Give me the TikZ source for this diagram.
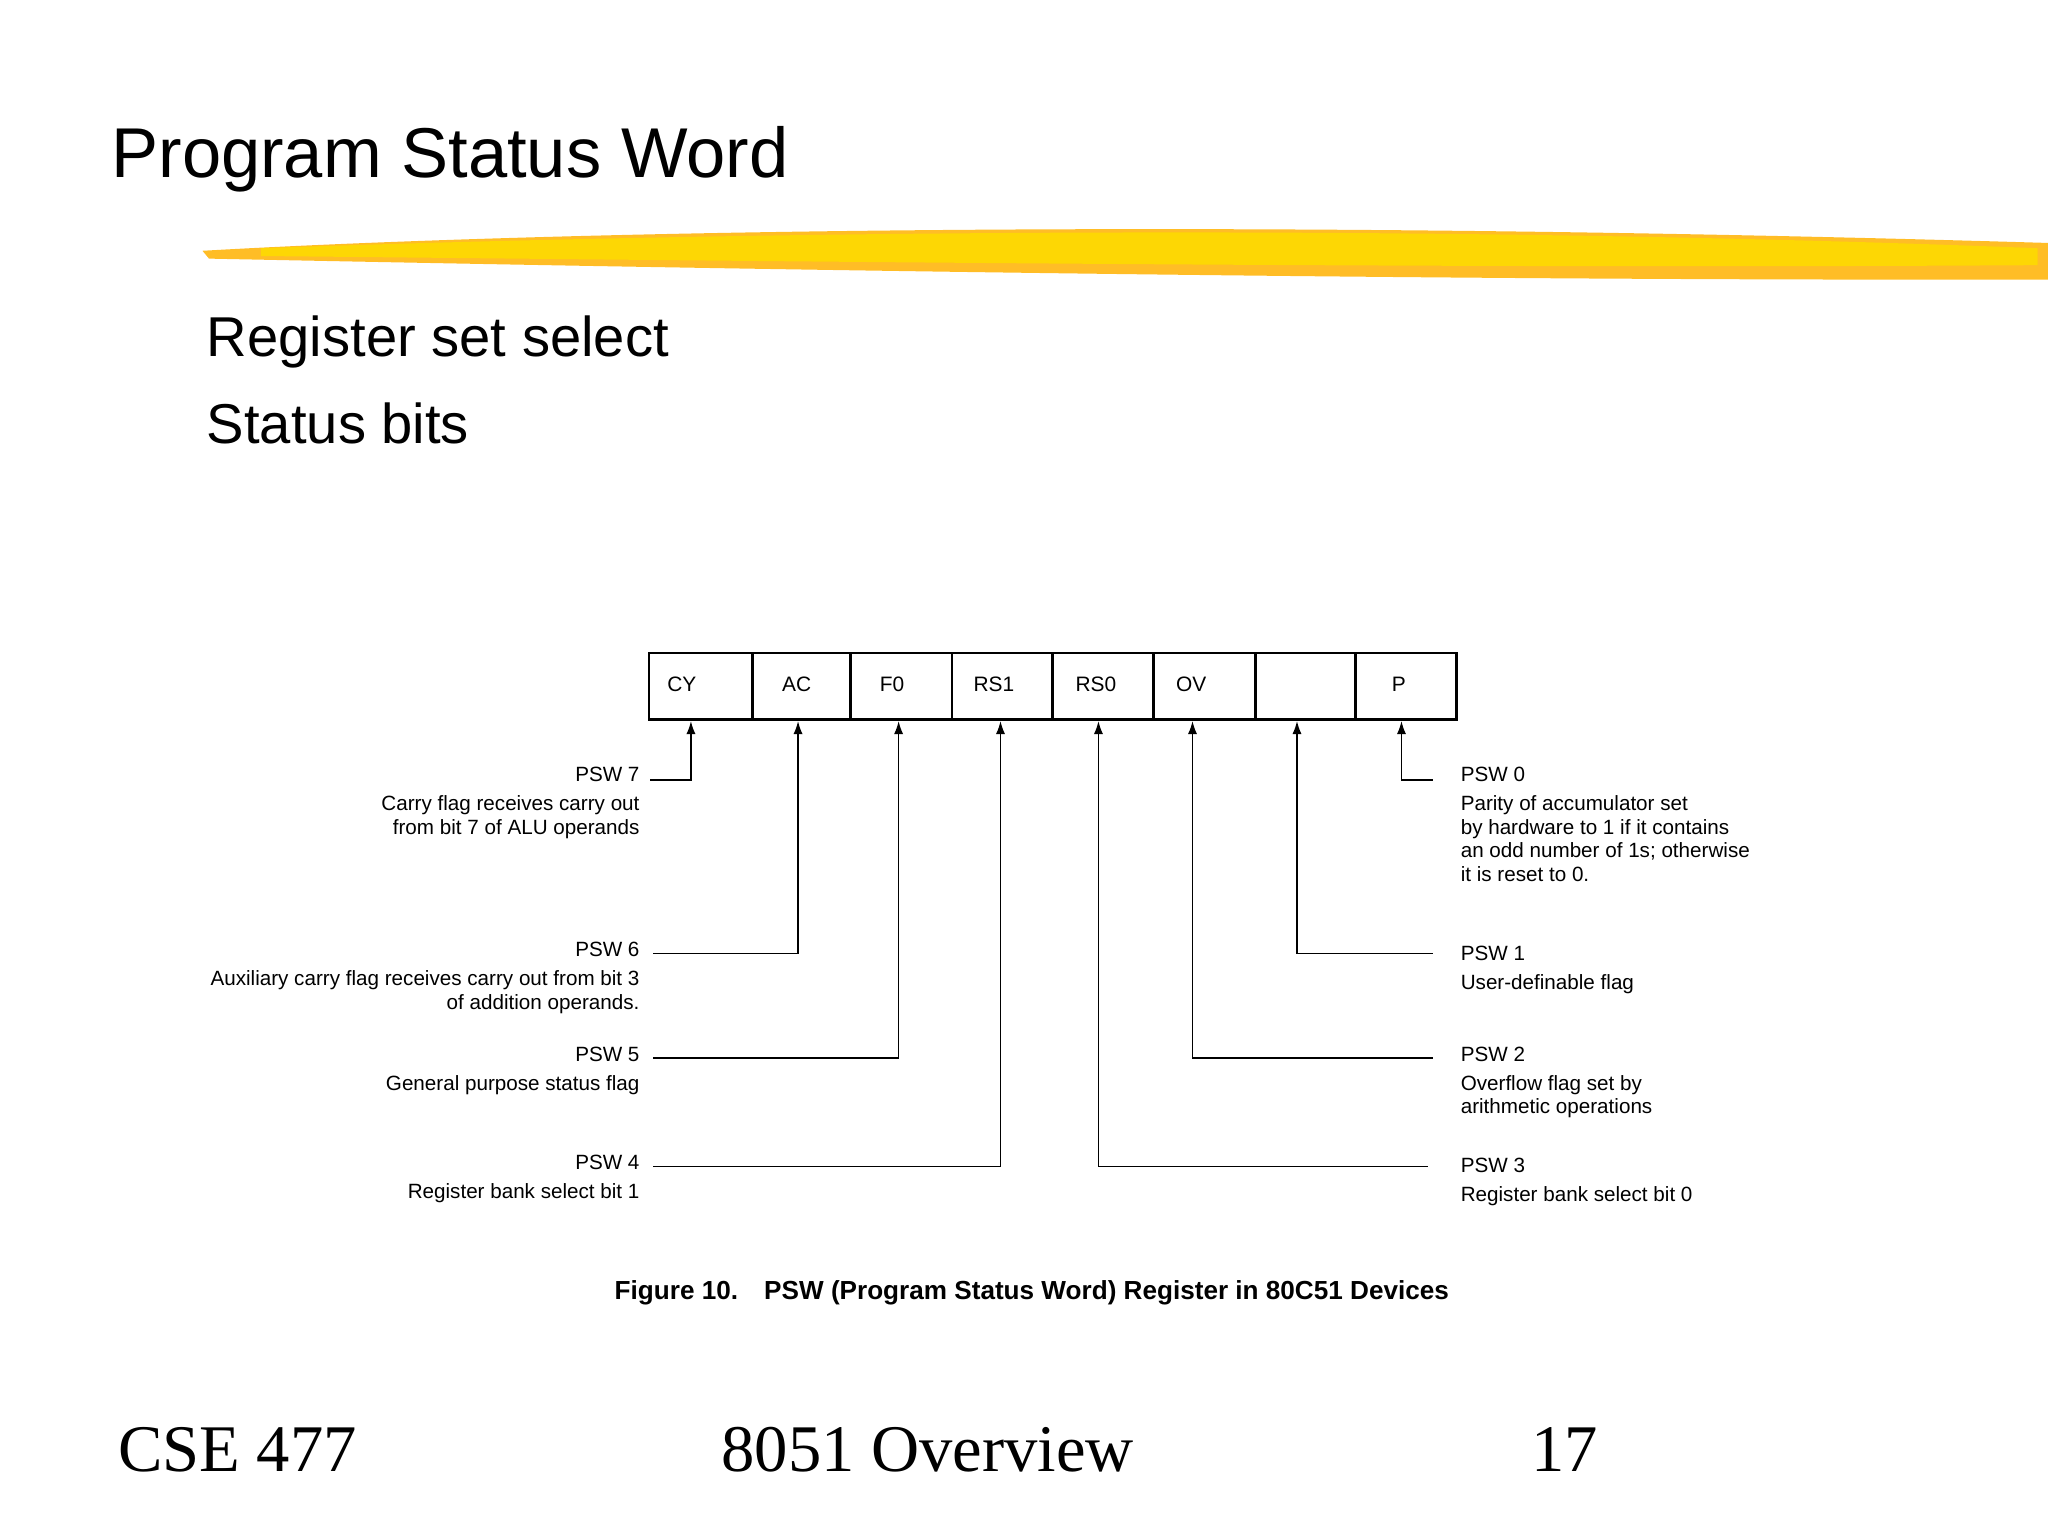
\documentclass[tikz,border=0pt]{standalone}
\usepackage{fontspec}
\setmainfont{Liberation Sans}
\newfontfamily\serf{Liberation Serif}
\usetikzlibrary{arrows.meta}
\begin{document}
\begin{tikzpicture}[x=0.5pt,y=-0.5pt,
  cell/.style={draw,line width=1pt,minimum height=25.5pt,inner sep=0pt,anchor=north west,font=\fontsize{8}{9}\selectfont},
  lbl/.style={font=\fontsize{7.9}{9}\selectfont,inner sep=0pt,align=left},
  wire/.style={line width=0.6pt},
  arr/.style={wire,-{Latex[length=5pt,width=3.5pt]}},
  title/.style={font=\fontsize{27}{30}\selectfont,anchor=west,inner sep=0pt},
  sub/.style={font=\fontsize{21.5}{24}\selectfont,anchor=west,inner sep=0pt},
  foot/.style={font=\serf\fontsize{25.5}{29}\selectfont,anchor=west,inner sep=0pt}]
\useasboundingbox (0,0) rectangle (1568,1175);
\fill[white] (0,0) rectangle (1568,1175);
% brush stroke
\fill[orange!60!yellow,opacity=0.85] (155,192) .. controls (400,178) and (900,166) .. (1568,186) -- (1568,214) .. controls (1100,215) and (600,207) .. (160,198) -- cycle;
\fill[yellow!75!orange] (200,190) .. controls (600,176) and (1100,172) .. (1560,190) -- (1560,203) .. controls (1100,206) and (600,200) .. (200,196) -- cycle;
\node[title] (t) at (85,122) {Program Status Word};
\node[sub] (s1) at (158,262) {Register set select};
\node[sub] (s2) at (158,324) {Status bits};
% register cells
\foreach \n/\a/\b in {cy/496/575,ac/575/650,f0/650/728,rs1/728/805,rs0/805/882,ov/882/960,u/960/1037,p/1037/1114}{
  \node[cell,minimum width={(\b-\a)*0.5pt}] (\n) at (\a,499) {};
}
\foreach \n/\x/\t in {cy/522/CY,ac/610/AC,f0/683/F0,rs1/761/RS1,rs0/839/RS0,ov/912/OV,p/1071/P}{
  \node[font=\fontsize{8}{9}\selectfont] at (\x,524) {\t};
}
\foreach \n/\x in {a7/529,a6/611,a5/688,a4/766,a3/841,a2/913,a1/993,a0/1073}{\coordinate (\n) at (\x,552);}
% left labels
\node[lbl,anchor=east] (l7) at (490,593) {PSW 7};
\node[lbl,anchor=north east,align=right] at (490,609) {Carry flag receives carry out\\from bit 7 of ALU operands};
\node[lbl,anchor=east] (l6) at (490,727) {PSW 6};
\node[lbl,anchor=north east,align=right] at (490,743) {Auxiliary carry flag receives carry out from bit 3\\of addition operands.};
\node[lbl,anchor=east] (l5) at (490,807) {PSW 5};
\node[lbl,anchor=north east,align=right] at (490,823) {General purpose status flag};
\node[lbl,anchor=east] (l4) at (490,890) {PSW 4};
\node[lbl,anchor=north east,align=right] at (490,906) {Register bank select bit 1};
% right labels
\node[lbl,anchor=west] (r0) at (1118,593) {PSW 0};
\node[lbl,anchor=north west] at (1118,609) {Parity of accumulator set\\by hardware to 1 if it contains\\an odd number of 1s; otherwise\\it is reset to 0.};
\node[lbl,anchor=west] (r1) at (1118,730) {PSW 1};
\node[lbl,anchor=north west] at (1118,746) {User-definable flag};
\node[lbl,anchor=west] (r2) at (1118,807) {PSW 2};
\node[lbl,anchor=north west] at (1118,823) {Overflow flag set by\\arithmetic operations};
\node[lbl,anchor=west] (r3) at (1118,892) {PSW 3};
\node[lbl,anchor=north west] at (1118,908) {Register bank select bit 0};
% wires
\draw[arr] (498,597) -| (a7);
\draw[arr] (500,730) -| (a6);
\draw[arr] (500,810) -| (a5);
\draw[arr] (500,893) -| (a4);
\draw[arr] (1093,893) -| (a3);
\draw[arr] (1097,810) -| (a2);
\draw[arr] (1097,730) -| (a1);
\draw[arr] (1097,597) -| (a0);
\node[font=\bfseries\fontsize{10}{12}\selectfont] (cap) at (790,990) {Figure 10.\quad PSW (Program Status Word) Register in 80C51 Devices};
\node[foot] (f1) at (90,1110) {CSE 477};
\node[foot] (f2) at (552,1110) {8051 Overview};
\node[foot] (f3) at (1172,1110) {17};
\end{tikzpicture}
\end{document}
